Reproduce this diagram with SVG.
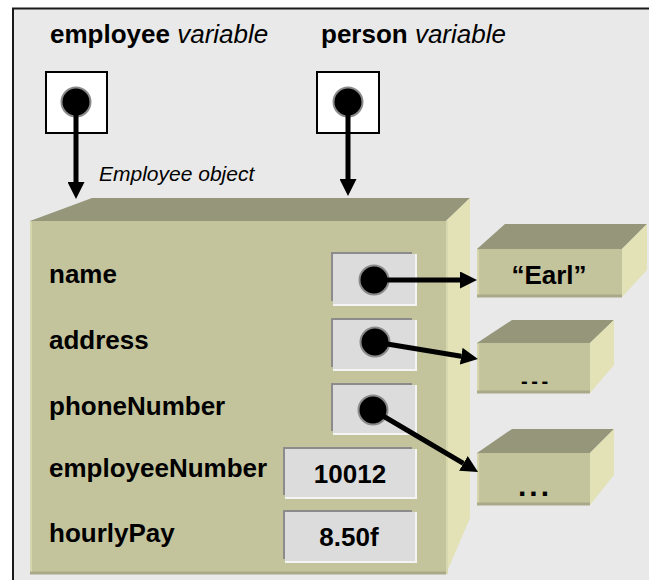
<svg xmlns="http://www.w3.org/2000/svg" width="649" height="580" viewBox="0 0 649 580">
<defs>
<style>
.lbl{font-family:"Liberation Sans",Arial,sans-serif;font-weight:bold;font-size:26px;fill:#000}
.it{font-family:"Liberation Sans",Arial,sans-serif;font-style:italic;font-weight:normal;fill:#000}
.val{font-family:"Liberation Sans",Arial,sans-serif;font-weight:bold;font-size:26px;fill:#000;text-anchor:middle}
.front{fill:#c4c49c}
.top{fill:#96967a}
.side{fill:#e2e2b6}
.hl{stroke:#d6d6ae;stroke-width:2}
.sh{stroke:#a9a98a;stroke-width:3}
.cellD{fill:#8c8c8c}
.cellW{fill:#f4f4f4}
.cellF{fill:#dcdcdc}
.var{fill:#fff;stroke:#000;stroke-width:2}
.dot{fill:#000;stroke:#8a8a8a;stroke-width:2}
.arr{stroke:#000;stroke-width:5;fill:none;marker-end:url(#ah)}
</style>
<marker id="ah" viewBox="0 0 17 17" refX="0" refY="8.5" markerWidth="17" markerHeight="17" markerUnits="userSpaceOnUse" orient="auto">
<path d="M0,0 L17,8.5 L0,17 Z" fill="#000"/>
</marker>
</defs>
<rect x="0" y="0" width="649" height="580" fill="#fff"/>
<rect x="13" y="8.5" width="700" height="700" fill="#e9e9e9" stroke="#1a1a1a" stroke-width="2"/>

<g id="employee-var">
<text x="50" y="43" class="lbl">employee<tspan class="it"> variable</tspan></text>
<rect x="46" y="72" width="61" height="61" class="var"/>
<circle cx="76" cy="102" r="14.5" class="dot"/>
</g>
<g id="person-var">
<text x="321" y="43" class="lbl">person<tspan class="it"> variable</tspan></text>
<rect x="317" y="72" width="62" height="61" class="var"/>
<circle cx="348" cy="102" r="14.5" class="dot"/>
</g>

<g id="employee-object">
<text x="99" y="181" class="it" style="font-size:21px">Employee object</text>
<polygon points="30,221 92,198 470,198 446,221" class="top"/>
<polygon points="446,221 470,198 470,518 446,574" class="side"/>
<rect x="30" y="221" width="416" height="353" class="front"/>
<line x1="31" y1="222" x2="31" y2="573" class="hl"/>
<line x1="30" y1="573" x2="446" y2="573" class="sh"/>
<line x1="447" y1="221" x2="447" y2="574" stroke="#d8d8ae" stroke-width="2"/>
<text x="49" y="283" class="lbl">name</text>
<text x="49" y="349" class="lbl">address</text>
<text x="49" y="415" class="lbl">phoneNumber</text>
<text x="49" y="477" class="lbl">employeeNumber</text>
<text x="49" y="542" class="lbl">hourlyPay</text>
<g id="name-cell">
<rect x="331" y="252" width="81" height="49" class="cellD"/>
<rect x="333" y="254" width="84" height="52" class="cellW"/>
<rect x="333" y="254" width="82" height="50" class="cellF"/>
<circle cx="374" cy="280" r="14.5" class="dot"/>
</g>
<g id="address-cell">
<rect x="331" y="318" width="81" height="49" class="cellD"/>
<rect x="333" y="320" width="84" height="51" class="cellW"/>
<rect x="333" y="320" width="82" height="49" class="cellF"/>
<circle cx="375" cy="342" r="14.5" class="dot"/>
</g>
<g id="phone-cell">
<rect x="331" y="383" width="81" height="48" class="cellD"/>
<rect x="333" y="385" width="84" height="50" class="cellW"/>
<rect x="333" y="385" width="82" height="48" class="cellF"/>
<circle cx="373" cy="410" r="14.5" class="dot"/>
</g>
<g id="empnum-cell">
<rect x="283" y="447" width="129" height="48" class="cellD"/>
<rect x="285" y="449" width="132" height="50" class="cellW"/>
<rect x="285" y="449" width="130" height="48" class="cellF"/>
<text x="350" y="483" class="val">10012</text>
</g>
<g id="pay-cell">
<rect x="283" y="510" width="129" height="49" class="cellD"/>
<rect x="285" y="512" width="132" height="51" class="cellW"/>
<rect x="285" y="512" width="130" height="49" class="cellF"/>
<text x="349" y="546" class="val">8.50f</text>
</g>
</g>

<g id="earl-object">
<polygon points="477,249 505,224 647,224 622,249" class="top"/>
<polygon points="622,249 647,224 647,270 622,297" class="side"/>
<rect x="477" y="249" width="145" height="48" class="front"/>
<line x1="478" y1="250" x2="478" y2="296" class="hl"/>
<line x1="477" y1="296" x2="622" y2="296" class="sh"/>
<text x="549" y="284" class="val">“Earl”</text>
</g>
<g id="address-object">
<polygon points="477,343 512,320 614,320 590,343" class="top"/>
<polygon points="590,343 614,320 614,365 590,393" class="side"/>
<rect x="477" y="343" width="113" height="50" class="front"/>
<line x1="478" y1="344" x2="478" y2="392" class="hl"/>
<line x1="477" y1="392" x2="590" y2="392" class="sh"/>
<text x="534" y="388" class="val" style="font-size:20px;letter-spacing:-1px">- - -</text>
</g>
<g id="phone-object">
<polygon points="477,453 512,429 614,429 590,453" class="top"/>
<polygon points="590,453 614,429 614,475 590,505" class="side"/>
<rect x="477" y="453" width="113" height="52" class="front"/>
<line x1="478" y1="454" x2="478" y2="504" class="hl"/>
<line x1="477" y1="504" x2="590" y2="504" class="sh"/>
<text x="535" y="496" class="val" style="font-size:30px;letter-spacing:3px">...</text>
</g>

<g id="connectors">
<line x1="76" y1="102" x2="76" y2="182" class="arr"/>
<line x1="348" y1="102" x2="348" y2="179" class="arr"/>
<line x1="374" y1="280" x2="460" y2="280" class="arr"/>
<line x1="375" y1="342" x2="461.2" y2="356.2" class="arr"/>
<line x1="373" y1="410" x2="463.4" y2="463.4" class="arr"/>
</g>
</svg>
